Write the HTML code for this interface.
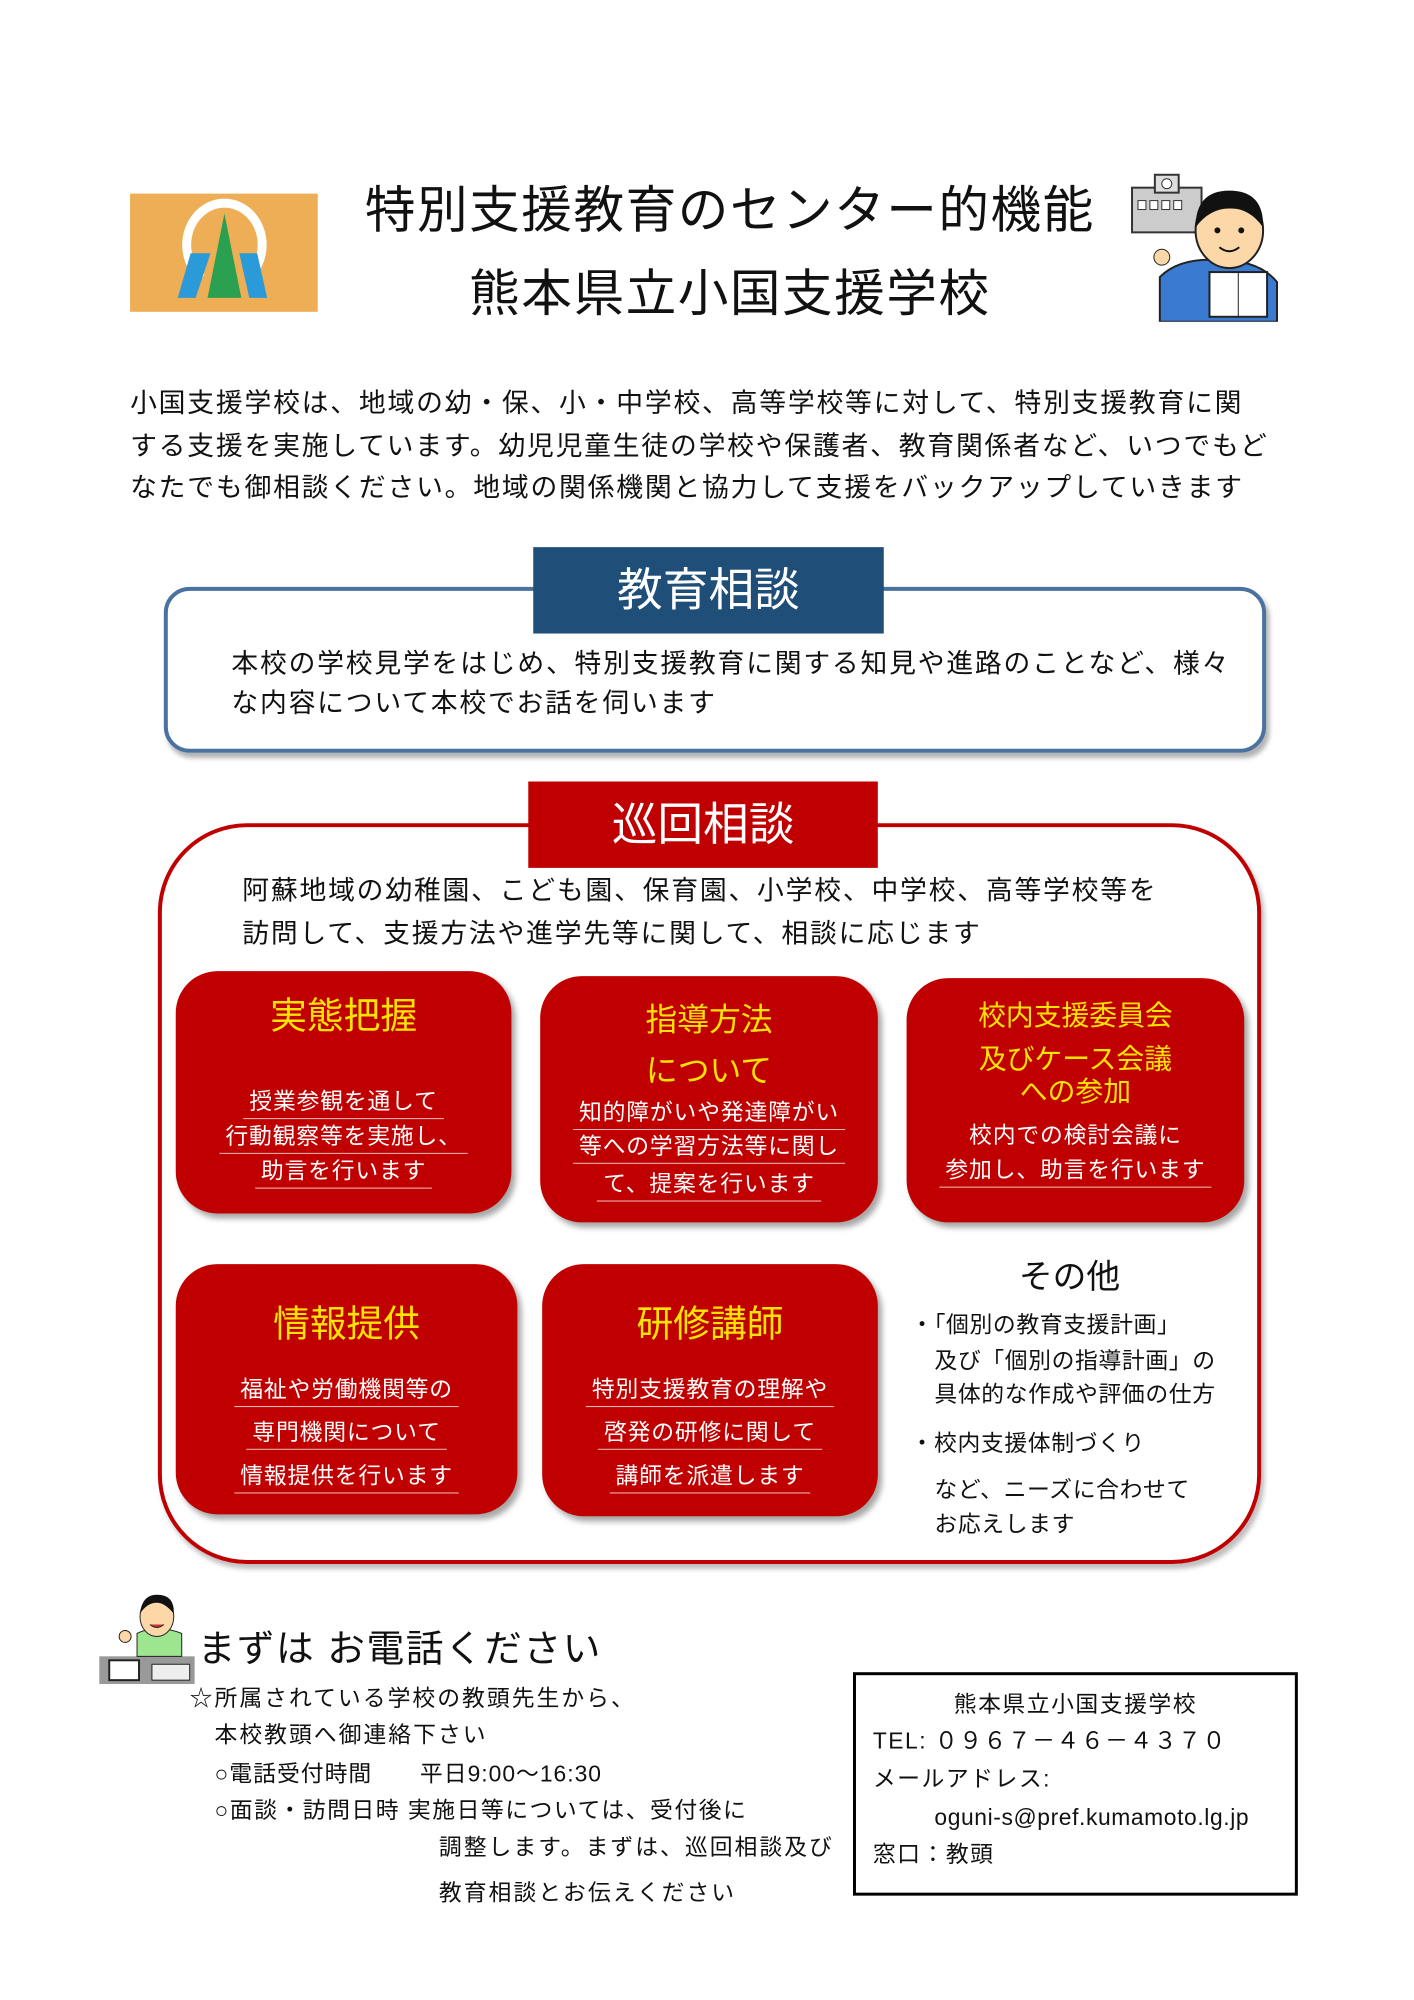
<!DOCTYPE html>
<html><head><meta charset="utf-8">
<style>
*{margin:0;padding:0;box-sizing:border-box}
body{width:1414px;height:2000px;background:#fff;position:relative;overflow:hidden;font-family:"Liberation Sans","Noto Sans CJK JP",sans-serif;color:#111}
#wrap{position:absolute;left:0;top:0;width:1414px;height:2000px;transform:scale(0.993);transform-origin:0 0}
.a{position:absolute;white-space:nowrap}
.c{text-align:center}
.card{position:absolute;background:#c00000;border-radius:42px;box-shadow:4px 5px 6px rgba(0,0,0,.35)}
.y{position:absolute;left:0;right:0;text-align:center;color:#ffe400;white-space:nowrap}
.w{position:absolute;left:0;right:0;text-align:center;color:#fff;font-size:23px;line-height:30px;white-space:nowrap;letter-spacing:0.8px}
.w span{display:inline-block;border-bottom:1px solid #f2c0c0;padding:0 6px 2px}
.t{font-size:27px;line-height:34px;letter-spacing:1.8px}
.s{font-size:23px;line-height:30px;letter-spacing:1.5px}
</style></head><body><div id="wrap">

<div class="a" style="left:131px;top:195px;width:189px;height:119px;background:#eeae55"></div>
<svg class="a" style="left:131px;top:195px" width="189" height="119">
<path d="M72,85 A38,42 0 1 1 118,85" fill="none" stroke="#fff" stroke-width="9"/>
<polygon points="75,60 95,60 80,105 62,105" fill="#2a9ad8" transform="translate(-14,0)"/>
<polygon points="95,20 78,105 112,105" fill="#2aa050"/>
<polygon points="102,60 120,60 130,105 112,105" fill="#2a9ad8" transform="translate(8,0)"/>
</svg>

<div class="a c" style="left:300px;width:870px;top:180px;font-size:51px;line-height:64px;letter-spacing:1.5px">特別支援教育のセンター的機能</div>
<div class="a c" style="left:300px;width:870px;top:264px;font-size:51px;line-height:64px;letter-spacing:1.5px">熊本県立小国支援学校</div>

<svg class="a" style="left:1138px;top:174px" width="150" height="150">
<rect x="2" y="15" width="70" height="45" fill="#ccc" stroke="#333" stroke-width="2"/>
<rect x="25" y="2" width="24" height="18" fill="#ddd" stroke="#333" stroke-width="2"/>
<circle cx="37" cy="11" r="5" fill="#fff" stroke="#333"/>
<rect x="8" y="28" width="8" height="9" fill="#fff" stroke="#333"/><rect x="20" y="28" width="8" height="9" fill="#fff" stroke="#333"/><rect x="32" y="28" width="8" height="9" fill="#fff" stroke="#333"/><rect x="44" y="28" width="8" height="9" fill="#fff" stroke="#333"/>
<path d="M30,150 L30,105 Q50,85 90,88 Q130,88 148,110 L148,150 Z" fill="#3a7ad0" stroke="#222" stroke-width="2"/>
<ellipse cx="100" cy="58" rx="34" ry="38" fill="#fcd8a8" stroke="#222" stroke-width="2"/>
<path d="M66,55 Q66,18 100,18 Q135,18 134,55 Q120,35 100,36 Q80,36 66,55Z" fill="#111"/>
<circle cx="88" cy="58" r="3" fill="#111"/><circle cx="112" cy="58" r="3" fill="#111"/>
<path d="M90,75 Q100,83 110,75" fill="none" stroke="#111" stroke-width="2"/>
<rect x="80" y="100" width="58" height="45" fill="#fff" stroke="#222" stroke-width="2"/>
<line x1="109" y1="100" x2="109" y2="145" stroke="#222"/>
<circle cx="32" cy="85" r="8" fill="#fcd8a8" stroke="#222"/>
</svg>

<div class="a t" style="left:131px;top:389px">小国支援学校は、地域の幼・保、小・中学校、高等学校等に対して、特別支援教育に関</div>
<div class="a t" style="left:131px;top:432px">する支援を実施しています。幼児児童生徒の学校や保護者、教育関係者など、いつでもど</div>
<div class="a t" style="left:131px;top:474px">なたでも御相談ください。地域の関係機関と協力して支援をバックアップしていきます</div>

<div class="a" style="left:165px;top:591px;width:1110px;height:167px;border:4px solid #4a72a0;border-radius:26px;box-shadow:3px 5px 5px rgba(0,0,0,.3)"></div>
<div class="a c" style="left:537px;top:551px;width:353px;height:87px;background:#1f4e79;color:#fff;font-size:46px;line-height:87px">教育相談</div>
<div class="a t" style="left:233px;top:651px">本校の学校見学をはじめ、特別支援教育に関する知見や進路のことなど、様々</div>
<div class="a t" style="left:233px;top:691px">な内容について本校でお話を伺います</div>

<div class="a" style="left:159px;top:829px;width:1111px;height:746px;border:4px solid #c00000;border-radius:90px;box-shadow:3px 5px 5px rgba(0,0,0,.25)"></div>
<div class="a c" style="left:532px;top:787px;width:352px;height:87px;background:#c00000;color:#fff;font-size:46px;line-height:87px">巡回相談</div>
<div class="a t" style="left:244px;top:880px">阿蘇地域の幼稚園、こども園、保育園、小学校、中学校、高等学校等を</div>
<div class="a t" style="left:244px;top:923px">訪問して、支援方法や進学先等に関して、相談に応じます</div>

<div class="card" style="left:177px;top:978px;width:338px;height:244px">
 <div class="y" style="top:23px;font-size:37px;line-height:46px">実態把握</div>
 <div class="w" style="top:116px"><span>授業参観を通して</span></div>
 <div class="w" style="top:151px"><span>行動観察等を実施し、</span></div>
 <div class="w" style="top:186px"><span>助言を行います</span></div>
</div>
<div class="card" style="left:544px;top:983px;width:340px;height:248px">
 <div class="y" style="top:23px;font-size:32px;line-height:42px">指導方法</div>
 <div class="y" style="top:74px;font-size:32px;line-height:42px">について</div>
 <div class="w" style="top:122px"><span>知的障がいや発達障がい</span></div>
 <div class="w" style="top:156px"><span>等への学習方法等に関し</span></div>
 <div class="w" style="top:194px"><span>て、提案を行います</span></div>
</div>
<div class="card" style="left:913px;top:985px;width:340px;height:246px">
 <div class="y" style="top:20px;font-size:28px;line-height:36px">校内支援委員会</div>
 <div class="y" style="top:64px;font-size:28px;line-height:36px">及びケース会議</div>
 <div class="y" style="top:97px;font-size:28px;line-height:36px">への参加</div>
 <div class="w" style="top:143px">校内での検討会議に</div>
 <div class="w" style="top:178px"><span>参加し、助言を行います</span></div>
</div>
<div class="card" style="left:177px;top:1273px;width:344px;height:252px">
 <div class="y" style="top:38px;font-size:37px;line-height:46px">情報提供</div>
 <div class="w" style="top:111px"><span>福祉や労働機関等の</span></div>
 <div class="w" style="top:154px"><span>専門機関について</span></div>
 <div class="w" style="top:198px"><span>情報提供を行います</span></div>
</div>
<div class="card" style="left:546px;top:1273px;width:338px;height:254px">
 <div class="y" style="top:38px;font-size:37px;line-height:46px">研修講師</div>
 <div class="w" style="top:111px"><span>特別支援教育の理解や</span></div>
 <div class="w" style="top:154px"><span>啓発の研修に関して</span></div>
 <div class="w" style="top:198px"><span>講師を派遣します</span></div>
</div>

<div class="a c" style="left:977px;width:200px;top:1266px;font-size:34px;line-height:40px">その他</div>
<div class="a s" style="left:917px;top:1319px;letter-spacing:0.6px">・「個別の教育支援計画」</div>
<div class="a s" style="left:941px;top:1355px;letter-spacing:0.6px">及び「個別の指導計画」の</div>
<div class="a s" style="left:941px;top:1389px;letter-spacing:0.6px">具体的な作成や評価の仕方</div>
<div class="a s" style="left:917px;top:1438px;letter-spacing:0.6px">・校内支援体制づくり</div>
<div class="a s" style="left:941px;top:1485px;letter-spacing:0.6px">など、ニーズに合わせて</div>
<div class="a s" style="left:941px;top:1520px;letter-spacing:0.6px">お応えします</div>

<svg class="a" style="left:98px;top:1600px" width="100" height="96">
<rect x="2" y="68" width="96" height="28" fill="#999"/>
<rect x="12" y="72" width="30" height="20" fill="#fff" stroke="#222" stroke-width="2"/>
<rect x="55" y="76" width="38" height="16" fill="#eee" stroke="#222"/>
<path d="M40,68 L40,45 Q60,35 85,45 L85,68Z" fill="#9de58f" stroke="#222"/>
<ellipse cx="60" cy="28" rx="17" ry="20" fill="#fcd8a8" stroke="#222"/>
<path d="M43,25 Q45,6 60,6 Q78,6 77,25 Q68,14 60,14 Q50,14 43,25Z" fill="#111"/>
<path d="M53,36 Q60,42 67,36" fill="#c33" stroke="#222"/>
<circle cx="28" cy="48" r="6" fill="#fcd8a8" stroke="#222"/>
</svg>
<div class="a" style="left:199px;top:1638px;font-size:38px;line-height:46px;letter-spacing:1.5px">まずは お電話ください</div>
<div class="a s" style="left:191px;top:1695px;letter-spacing:2px">☆所属されている学校の教頭先生から、</div>
<div class="a s" style="left:216px;top:1732px;letter-spacing:2px">本校教頭へ御連絡下さい</div>
<div class="a s" style="left:216px;top:1771px;letter-spacing:1px">○電話受付時間　　平日9:00～16:30</div>
<div class="a s" style="left:216px;top:1808px;letter-spacing:1.5px">○面談・訪問日時 実施日等については、受付後に</div>
<div class="a s" style="left:442px;top:1845px;letter-spacing:2px">調整します。まずは、巡回相談及び</div>
<div class="a s" style="left:442px;top:1891px;letter-spacing:2px">教育相談とお伝えください</div>

<div class="a" style="left:859px;top:1684px;width:448px;height:225px;border:3px solid #000"></div>
<div class="a s c" style="left:859px;width:448px;top:1701px">熊本県立小国支援学校</div>
<div class="a s" style="left:879px;top:1738px">TEL: ０９６７－４６－４３７０</div>
<div class="a s" style="left:879px;top:1776px">メールアドレス:</div>
<div class="a s" style="left:941px;top:1815px;letter-spacing:0.6px">oguni-s@pref.kumamoto.lg.jp</div>
<div class="a s" style="left:879px;top:1852px">窓口：教頭</div>

</div></body></html>
